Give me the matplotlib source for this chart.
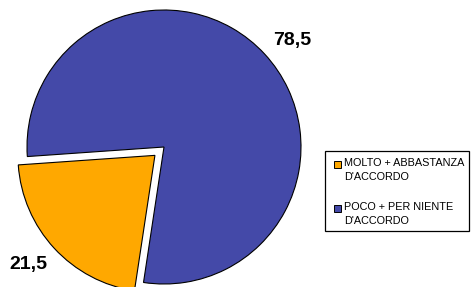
import matplotlib.pyplot as plt
from matplotlib.patches import Rectangle

plt.rcParams['font.family'] = ['Liberation Sans', 'DejaVu Sans']

labels = ["MOLTO + ABBASTANZA\nD'ACCORDO", "POCO + PER NIENTE\nD'ACCORDO"]
values = [21.5, 78.5]
value_labels = ["21,5", "78,5"]
colors = ['#FFA800', '#4449A8']

W, H = 471, 287
fig = plt.figure(figsize=(W / 100, H / 100), dpi=100)
ax = fig.add_axes([0, 0, 1, 1])

R = 137.0
cx, cy = 164.0, 147.0
wedges, _ = ax.pie(values, colors=colors, startangle=184, counterclock=True,
                   explode=[0.09, 0], radius=1.0,
                   wedgeprops=dict(edgecolor='black', linewidth=0.8))
ax.set_xlim(-cx / R, (W - cx) / R)
ax.set_ylim(-(H - cy) / R, cy / R)
ax.set_aspect('auto')
ax.axis('off')


def fx(px):
    return px / W


def fy(py):
    return 1 - py / H


# value labels
fig.text(fx(28), fy(265), value_labels[0], fontsize=14,
         fontweight='bold', ha='center', va='center')
fig.text(fx(292), fy(40), value_labels[1], fontsize=14,
         fontweight='bold', ha='center', va='center')

# legend box
fig.patches.append(Rectangle((fx(325), fy(231)), fx(469) - fx(325), fy(151) - fy(231),
                             transform=fig.transFigure, facecolor='white',
                             edgecolor='black', linewidth=0.9))
row_y = [164, 208]
for lab, c, y in zip(labels, colors, row_y):
    fig.patches.append(Rectangle((fx(334), fy(y + 3.5)), 7 / W, 7 / H,
                                 transform=fig.transFigure, facecolor=c,
                                 edgecolor='black', linewidth=0.7))
    fig.text(fx(344), fy(y - 6), lab, fontsize=7.8, ha='left', va='top',
             linespacing=1.55)

plt.savefig('out.png', dpi=100)
